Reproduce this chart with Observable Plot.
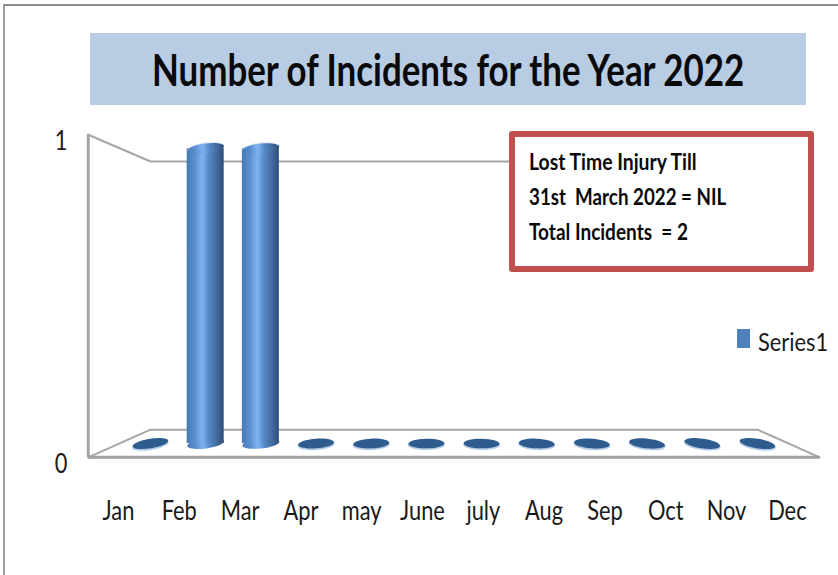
<!DOCTYPE html>
<html><head><meta charset="utf-8">
<script src="https://cdn.jsdelivr.net/npm/d3@7"></script>
<script src="https://cdn.jsdelivr.net/npm/@observablehq/plot@0.6"></script>
<style>
html,body{margin:0;padding:0;background:#fff;}
#page{position:relative;width:838px;height:575px;overflow:hidden;font-family:Lato,sans-serif;color:#111;}
#edge{position:absolute;left:3px;top:4px;width:835px;height:571px;border-top:2px solid #8c8c8c;border-left:2px solid #a0a0a0;box-sizing:border-box;z-index:3;pointer-events:none;}
#head{height:105px;position:relative;}
#title{position:absolute;left:90px;top:33px;width:716px;height:72px;background:#b8cce4;margin:0;font-size:44px;line-height:73px;font-weight:bold;color:#0a0a0a;white-space:nowrap;}
#title span{position:absolute;left:62px;top:0;}
#note{position:absolute;left:509px;top:131px;width:305px;height:141px;box-sizing:border-box;background:#fff;border:6px solid #c0504d;border-radius:3px;font-weight:bold;font-size:22px;line-height:35px;color:#0a0a0a;z-index:2;}
#note span{position:absolute;left:14px;white-space:pre;}
#legend{position:absolute;left:737px;top:329px;width:101px;height:22px;z-index:2;}
#legend i{position:absolute;left:0;top:0;width:13px;height:19px;background:#4f81bd;}
#legend span{position:absolute;left:21px;top:-3px;font-size:25px;line-height:30px;color:#1a1a1a;white-space:pre;}
#title span,#note span,#legend span{display:inline-block;transform-origin:0 50%;}
#chart svg{display:block;}
</style></head>
<body><div id="page">
<div id="edge"></div>
<div id="head"><h1 id="title"><span data-w="592">Number of Incidents for the Year 2022</span></h1></div>
<div id="chart"></div>
<div id="note"><span data-w="168" style="top:7px">Lost Time Injury Till</span><span data-w="197" style="top:42px">31st  March 2022 = NIL</span><span data-w="159" style="top:77px">Total Incidents  = 2</span></div>
<div id="legend"><i></i><span data-w="70">Series1</span></div>
</div>
<script>
const months = ["Jan","Feb","Mar","Apr","may","June","july","Aug","Sep","Oct","Nov","Dec"];
const incidents = [0,1,1,0,0,0,0,0,0,0,0,0];
const yTickValues = [0,1];

const rows = months.map((month,i)=>({month,i,value:incidents[i]}));
const standing = rows.filter(d=>d.value>0);
const flat = rows.filter(d=>d.value===0);

// The chart is a 3D box: back plane runs Jan..Dec, front plane is enlarged around the centre.
const xMid = (months.length-1)/2;
const frontLabelX = i => xMid + (i-xMid)*1.102 - 0.02;
const frontLabelY = v => 0.5 + (v-0.5)*1.094;
const cornerX = 1.205, floorBack = 0.047, floorFront = -0.047, wallBack = 0.956, wallFront = 1.047;
const fx = s => xMid + s*xMid*cornerX;
const floorOutline = [[fx(-1),floorFront],[fx(1),floorFront],[11,floorBack],[0,floorBack],[fx(-1),floorFront]];
const leftEdge = [[fx(-1),wallFront],[0,wallBack],[11,wallBack]];

const ellipse = {draw(c,size){
  const r=Math.sqrt(size/Math.PI), rx=r, ry=r*0.27, kx=rx*0.5523, ky=ry*0.5523;
  c.moveTo(-rx,0);
  c.bezierCurveTo(-rx,-ky,-kx,-ry,0,-ry);
  c.bezierCurveTo(kx,-ry,rx,-ky,rx,0);
  c.bezierCurveTo(rx,ky,kx,ry,0,ry);
  c.bezierCurveTo(-kx,ry,-rx,ky,-rx,0);
  c.closePath();
}};
const tilt = d => (d.i-xMid)*1.7;

const defs = () => {
  const g = d3.create("svg:defs");
  const lg = g.append("linearGradient").attr("id","cyl");
  [[0,"#4678b4"],[.22,"#5b90d0"],[.42,"#7fb3f5"],[.6,"#5588c6"],[.82,"#42699c"],[1,"#2f4f78"]]
    .forEach(([o,c])=>lg.append("stop").attr("offset",o).attr("stop-color",c));
  return g.node();
};

const plot = Plot.plot({
  width:838, height:470,
  marginLeft:68, marginRight:0, marginTop:0, marginBottom:76,
  x:{type:"linear",domain:[0,11],range:[150,757]},
  y:{type:"linear",domain:[0,1],range:[338,43]},
  style:{background:"transparent",fontFamily:"Lato,sans-serif",overflow:"visible"},
  marks:[
    defs,
    Plot.line(floorOutline,{x:d=>d[0],y:d=>d[1],stroke:"#a6a6a6",strokeWidth:2}),
    Plot.line(leftEdge,{x:d=>d[0],y:d=>d[1],stroke:"#a6a6a6",strokeWidth:2.2}),
    Plot.ruleX([fx(-1)],{y1:floorFront,y2:wallFront,stroke:"#a6a6a6",strokeWidth:3}),
    Plot.ruleY([floorFront],{x1:fx(-1),x2:fx(1),stroke:"#a0a0a0",strokeWidth:3}),
    Plot.dot(flat,{x:"i",y:()=>0,dy:1.5,r:18.5,symbol:ellipse,rotate:tilt,fill:"#b3cbe6"}),
    Plot.dot(flat,{x:"i",y:()=>0,r:18,symbol:ellipse,rotate:tilt,fill:"#2f5c8f"}),
    Plot.dot(standing,{x:"i",y:()=>0,r:18.5,symbol:ellipse,rotate:tilt,fill:"url(#cyl)"}),
    Plot.rectY(standing,{x1:d=>d.i-0.335,x2:d=>d.i+0.335,y:"value",fill:"url(#cyl)"}),
    Plot.dot(standing,{x:"i",y:"value",dy:-1,r:18.5,symbol:ellipse,rotate:tilt,fill:"#dce8f6"}),
    Plot.dot(standing,{x:"i",y:"value",r:18.5,symbol:ellipse,rotate:tilt,fill:"url(#cyl)"}),
    Plot.axisX(months.map((m,i)=>frontLabelX(i)),{
      anchor:"bottom",tickSize:0,tickPadding:2,label:null,
      tickFormat:(t,i)=>months[i],fontSize:26,fill:"#1a1a1a"
    }),
    Plot.axisY(yTickValues.map(frontLabelY),{
      anchor:"left",tickSize:0,tickPadding:1,label:null,dy:7,
      tickFormat:(t,i)=>yTickValues[i],fontSize:26,fill:"#1a1a1a"
    })
  ]
});
document.getElementById("chart").append(plot);

// The reference's type is condensed: squeeze the glyphs horizontally, keeping real text.
d3.select(plot).selectAll("text").each(function(){
  const len=this.getComputedTextLength();
  this.setAttribute("textLength",len*0.84);
  this.setAttribute("lengthAdjust","spacingAndGlyphs");
});
function fit(){
  document.querySelectorAll("[data-w]").forEach(el=>{
    el.style.transform="none";
    el.style.transform=`scaleX(${+el.dataset.w/el.offsetWidth})`;
  });
}
fit();
if(document.fonts&&document.fonts.ready)document.fonts.ready.then(fit);
</script>
</body></html>
